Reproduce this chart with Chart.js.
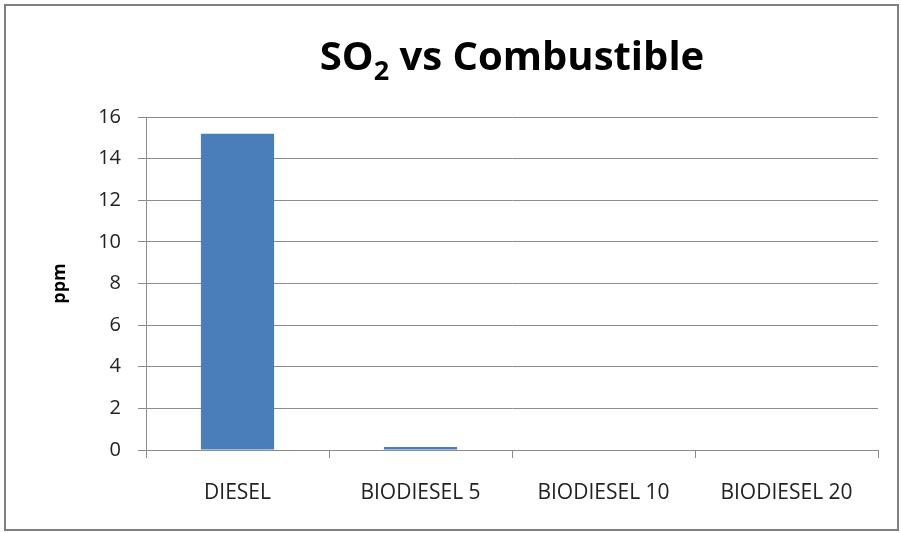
<!DOCTYPE html>
<html>
<head>
<meta charset="utf-8">
<script src="https://cdn.jsdelivr.net/npm/chart.js@4"></script>
<style>
    body { margin: 0; background: #fff; }
    #wrap {
        position: absolute; left: 4px; top: 4px;
        width: 891px; height: 523px;
        border: 2px solid #808080;
        background: #fff;
    }
</style>
</head>
<body>
<div id="wrap"><canvas id="so2Chart"></canvas></div>
<script>
// data
const categories = ["DIESEL", "BIODIESEL 5", "BIODIESEL 10", "BIODIESEL 20"];
const so2Values = [15.2, 0.15, 0, 0];
const yTicks = [0, 2, 4, 6, 8, 10, 12, 14, 16];

const FONT = "'Open Sans', sans-serif";

// title with a real subscript, centred over the plot area
const titlePlugin = {
    id: "so2Title",
    afterDraw(chart) {
        const c = chart.ctx;
        const area = chart.chartArea;
        const parts = [
            { t: "SO", size: 40, dy: 0 },
            { t: "2", size: 27, dy: 10 },
            { t: " vs Combustible", size: 40, dy: 0 },
        ];
        c.save();
        c.fillStyle = "#000";
        c.textBaseline = "alphabetic";
        let total = 0;
        parts.forEach((p) => {
            c.font = `bold ${p.size}px ${FONT}`;
            p.w = c.measureText(p.t).width;
            total += p.w;
        });
        let x = (area.left + area.right) / 2 - total / 2;
        const baseline = 64;
        parts.forEach((p) => {
            c.font = `bold ${p.size}px ${FONT}`;
            c.fillText(p.t, x, baseline + p.dy);
            x += p.w;
        });
        c.restore();
    },
};

const ctx = document.getElementById("so2Chart").getContext("2d");

new Chart(ctx, {
    type: "bar",
    data: {
        labels: categories,
        datasets: [
            {
                label: "SO2",
                data: so2Values,
                backgroundColor: "#4a7ebb",
                borderWidth: 0,
                categoryPercentage: 1,
                barPercentage: 0.4,
            },
        ],
    },
    plugins: [titlePlugin],
    options: {
        responsive: true,
        maintainAspectRatio: false,
        animation: false,
        layout: {
            padding: { left: 0, right: 19, top: 111, bottom: 0 },
        },
        plugins: {
            legend: { display: false },
            tooltip: { enabled: false },
            title: { display: false },
        },
        scales: {
            y: {
                min: 0,
                max: 16,
                afterBuildTicks: (axis) => {
                    axis.ticks = yTicks.map((v) => ({ value: v }));
                },
                afterFit: (axis) => {
                    axis.width = 140;
                },
                title: {
                    display: true,
                    text: "ppm",
                    color: "#000",
                    font: { family: FONT, size: 18, weight: "bold" },
                    padding: { top: 43, bottom: 0 },
                },
                ticks: {
                    color: "#222",
                    padding: 17,
                    font: { family: FONT, size: 20 },
                },
                grid: {
                    color: "#8c8c8c",
                    lineWidth: 1,
                    tickLength: 8,
                },
                border: { color: "#8c8c8c", width: 1 },
            },
            x: {
                afterFit: (axis) => {
                    axis.height = 79;
                },
                ticks: {
                    color: "#222",
                    padding: 22,
                    font: { family: FONT, size: 21 },
                },
                grid: {
                    display: true,
                    drawOnChartArea: false,
                    offset: true,
                    color: "#8c8c8c",
                    tickLength: 8,
                },
                border: { color: "#8c8c8c", width: 1 },
            },
        },
    },
});
</script>
</body>
</html>
